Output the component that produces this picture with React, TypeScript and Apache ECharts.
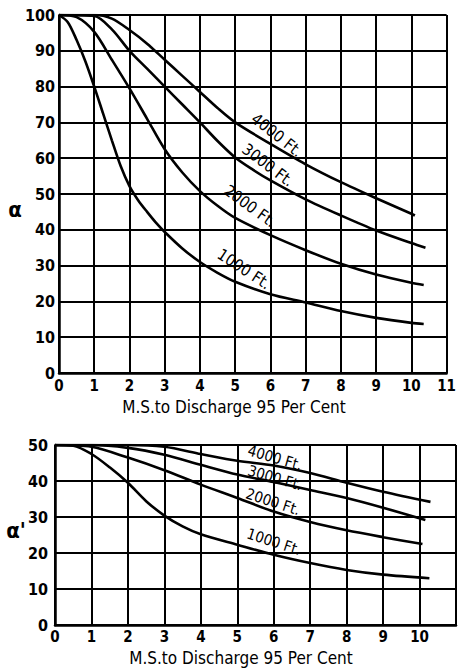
import React, { useEffect, useRef } from "react";
import * as echarts from "echarts";

// Upper chart (alpha), x = M.S. to discharge 95 per cent
const upper1000: [number, number][] = [
  [0, 100], [0.25, 98], [0.5, 93], [0.75, 87], [1, 80], [1.25, 72.5], [1.5, 65], [1.75, 57.8],
  [2, 52.2], [2.25, 48.2], [2.5, 45], [2.75, 42], [3, 39.4], [3.5, 34.8], [4, 31], [4.5, 28],
  [5, 25.5], [6, 22], [7, 19.7], [8, 17.3], [9, 15.4], [10, 14], [10.35, 13.7],
];
const upper2000: [number, number][] = [
  [0, 100], [0.5, 99.4], [1, 95.3], [1.5, 87.5], [2, 79.5], [2.5, 71], [3, 62.5], [3.5, 56],
  [4, 50.8], [4.5, 46.7], [5, 43.3], [6, 38.5], [7, 34.3], [8, 30.5], [9, 27.5], [10, 25.2], [10.35, 24.6],
];
const upper3000: [number, number][] = [
  [0, 100], [1, 99.7], [1.5, 96], [2, 90], [2.5, 85], [3, 80], [3.5, 75], [4, 70], [4.5, 64.8],
  [5, 60.2], [5.5, 56.8], [6, 53.8], [7, 48.5], [8, 44], [9, 39.8], [10, 36.3], [10.4, 35],
];
const upper4000: [number, number][] = [
  [0, 100], [1, 100], [1.5, 99], [2, 95.8], [2.5, 92], [3, 87.5], [3.5, 83], [4, 78.5], [4.5, 74],
  [5, 70], [6, 64], [7, 58.3], [8, 53.3], [9, 48.8], [10, 44.5], [10.1, 44],
];

// Lower chart (alpha')
const lower1000: [number, number][] = [
  [0, 50], [0.5, 49.8], [1, 47.5], [1.5, 43.8], [2, 39.5], [2.5, 34.4], [3, 30.4], [3.5, 27.4],
  [4, 25.2], [5, 22.3], [6, 19.5], [7, 17.2], [8, 15.3], [9, 14], [10.27, 13],
];
const lower2000: [number, number][] = [
  [0, 50], [1, 49.5], [2, 46.5], [3, 43], [4, 39], [5, 35.3], [6, 31.5], [7, 28.6], [8, 26.3],
  [9, 24.4], [10.08, 22.5],
];
const lower3000: [number, number][] = [
  [0, 50], [1, 50], [2, 49.2], [3, 47.3], [4, 44.5], [5, 41.8], [6, 39.7], [7, 37.5], [8, 35.3],
  [9, 32.6], [10.16, 29.2],
];
const lower4000: [number, number][] = [
  [0, 50], [1, 50], [2, 50], [3, 49.5], [4, 47.5], [5, 45.6], [6, 44.3], [7, 42.2], [8, 39.5],
  [9, 37], [10.3, 34.2],
];

const curveLabels = ["1000 Ft.", "2000 Ft.", "3000 Ft.", "4000 Ft."];
const xTitle = "M.S.to Discharge 95 Per Cent";
const upperYName = "α";
const lowerYName = "α'";

const FONT = '"DejaVu Sans Condensed", "DejaVu Sans", sans-serif';

export default function App() {
  const ref = useRef<HTMLDivElement>(null);
  useEffect(() => {
    if (!ref.current) return;
    const chart = echarts.init(ref.current, null, { renderer: "svg" });
    const grid = { lineStyle: { color: "#000", width: 2 } };
    const axisLine = { show: true, lineStyle: { color: "#000", width: 2.5 } };
    const yLabel = { color: "#000", fontFamily: FONT, fontWeight: "bold" as const, fontSize: 16 };
    const xLabel = { color: "#000", fontFamily: FONT, fontWeight: "bold" as const, fontSize: 15 };
    const lineSeries = (data: [number, number][], idx: number) => ({
      type: "line",
      xAxisIndex: idx,
      yAxisIndex: idx,
      data,
      smooth: 0.3,
      showSymbol: false,
      lineStyle: { color: "#000", width: 2.6 },
      silent: true,
    });
    const lbl = (text: string, x: number, y: number, deg: number, size: number) => ({
      type: "text",
      x,
      y,
      rotation: (deg * Math.PI) / 180,
      style: {
        text,
        x: 0,
        y: 0,
        fill: "#000",
        font: `${size}px ${FONT}`,
        align: "center",
        verticalAlign: "middle",
      },
    });
    chart.setOption({
      animation: false,
      backgroundColor: "#fff",
      grid: [
        { left: 59, top: 15, right: -5, height: 358 },
        { left: 55, top: 445, right: 0, height: 180 },
      ],
      xAxis: [
        {
          gridIndex: 0, type: "value", min: 0, max: 11, interval: 1,
          axisLine, axisTick: { show: false }, splitLine: { show: true, ...grid },
          axisLabel: { ...xLabel, margin: 5 },
        },
        {
          gridIndex: 1, type: "value", min: 0, max: 11, interval: 1,
          axisLine, axisTick: { show: false }, splitLine: { show: true, ...grid },
          axisLabel: { ...xLabel, margin: 4, formatter: (v: number) => (v > 10 ? "" : String(v)) },
        },
      ],
      yAxis: [
        {
          gridIndex: 0, type: "value", min: 0, max: 100, interval: 10,
          axisLine, axisTick: { show: false }, splitLine: { show: true, ...grid },
          axisLabel: { ...yLabel, margin: 4 },
        },
        {
          gridIndex: 1, type: "value", min: 0, max: 50, interval: 10,
          axisLine, axisTick: { show: false }, splitLine: { show: true, ...grid },
          axisLabel: { ...yLabel, margin: 7 },
        },
      ],
      series: [
        lineSeries(upper1000, 0),
        lineSeries(upper2000, 0),
        lineSeries(upper3000, 0),
        lineSeries(upper4000, 0),
        lineSeries(lower1000, 1),
        lineSeries(lower2000, 1),
        lineSeries(lower3000, 1),
        lineSeries(lower4000, 1),
      ],
      graphic: [
        lbl(curveLabels[3], 277, 135, -38, 16),
        lbl(curveLabels[2], 268, 165, -37, 16),
        lbl(curveLabels[1], 250, 206, -36, 16),
        lbl(curveLabels[0], 244, 269, -33, 16),
        lbl(curveLabels[3], 275, 458, -16, 15),
        lbl(curveLabels[2], 275, 478, -16, 15),
        lbl(curveLabels[1], 273, 502, -18, 15),
        lbl(curveLabels[0], 274, 542, -18, 15),
        {
          type: "text", x: 234, y: 407,
          style: { text: xTitle, fill: "#000", font: `17px ${FONT}`, align: "center", verticalAlign: "middle" },
        },
        {
          type: "text", x: 241, y: 658,
          style: { text: xTitle, fill: "#000", font: `17px ${FONT}`, align: "center", verticalAlign: "middle" },
        },
        {
          type: "text", x: 15, y: 209,
          style: { text: upperYName, fill: "#000", font: `bold 22px ${FONT}`, align: "center", verticalAlign: "middle" },
        },
        {
          type: "text", x: 16, y: 530,
          style: { text: lowerYName, fill: "#000", font: `bold 22px ${FONT}`, align: "center", verticalAlign: "middle" },
        },
      ],
    });
    return () => chart.dispose();
  }, []);
  return (
    <div
      ref={ref}
      style={{ position: "fixed", left: 0, top: 0, width: 459, height: 670, background: "#fff" }}
    />
  );
}
